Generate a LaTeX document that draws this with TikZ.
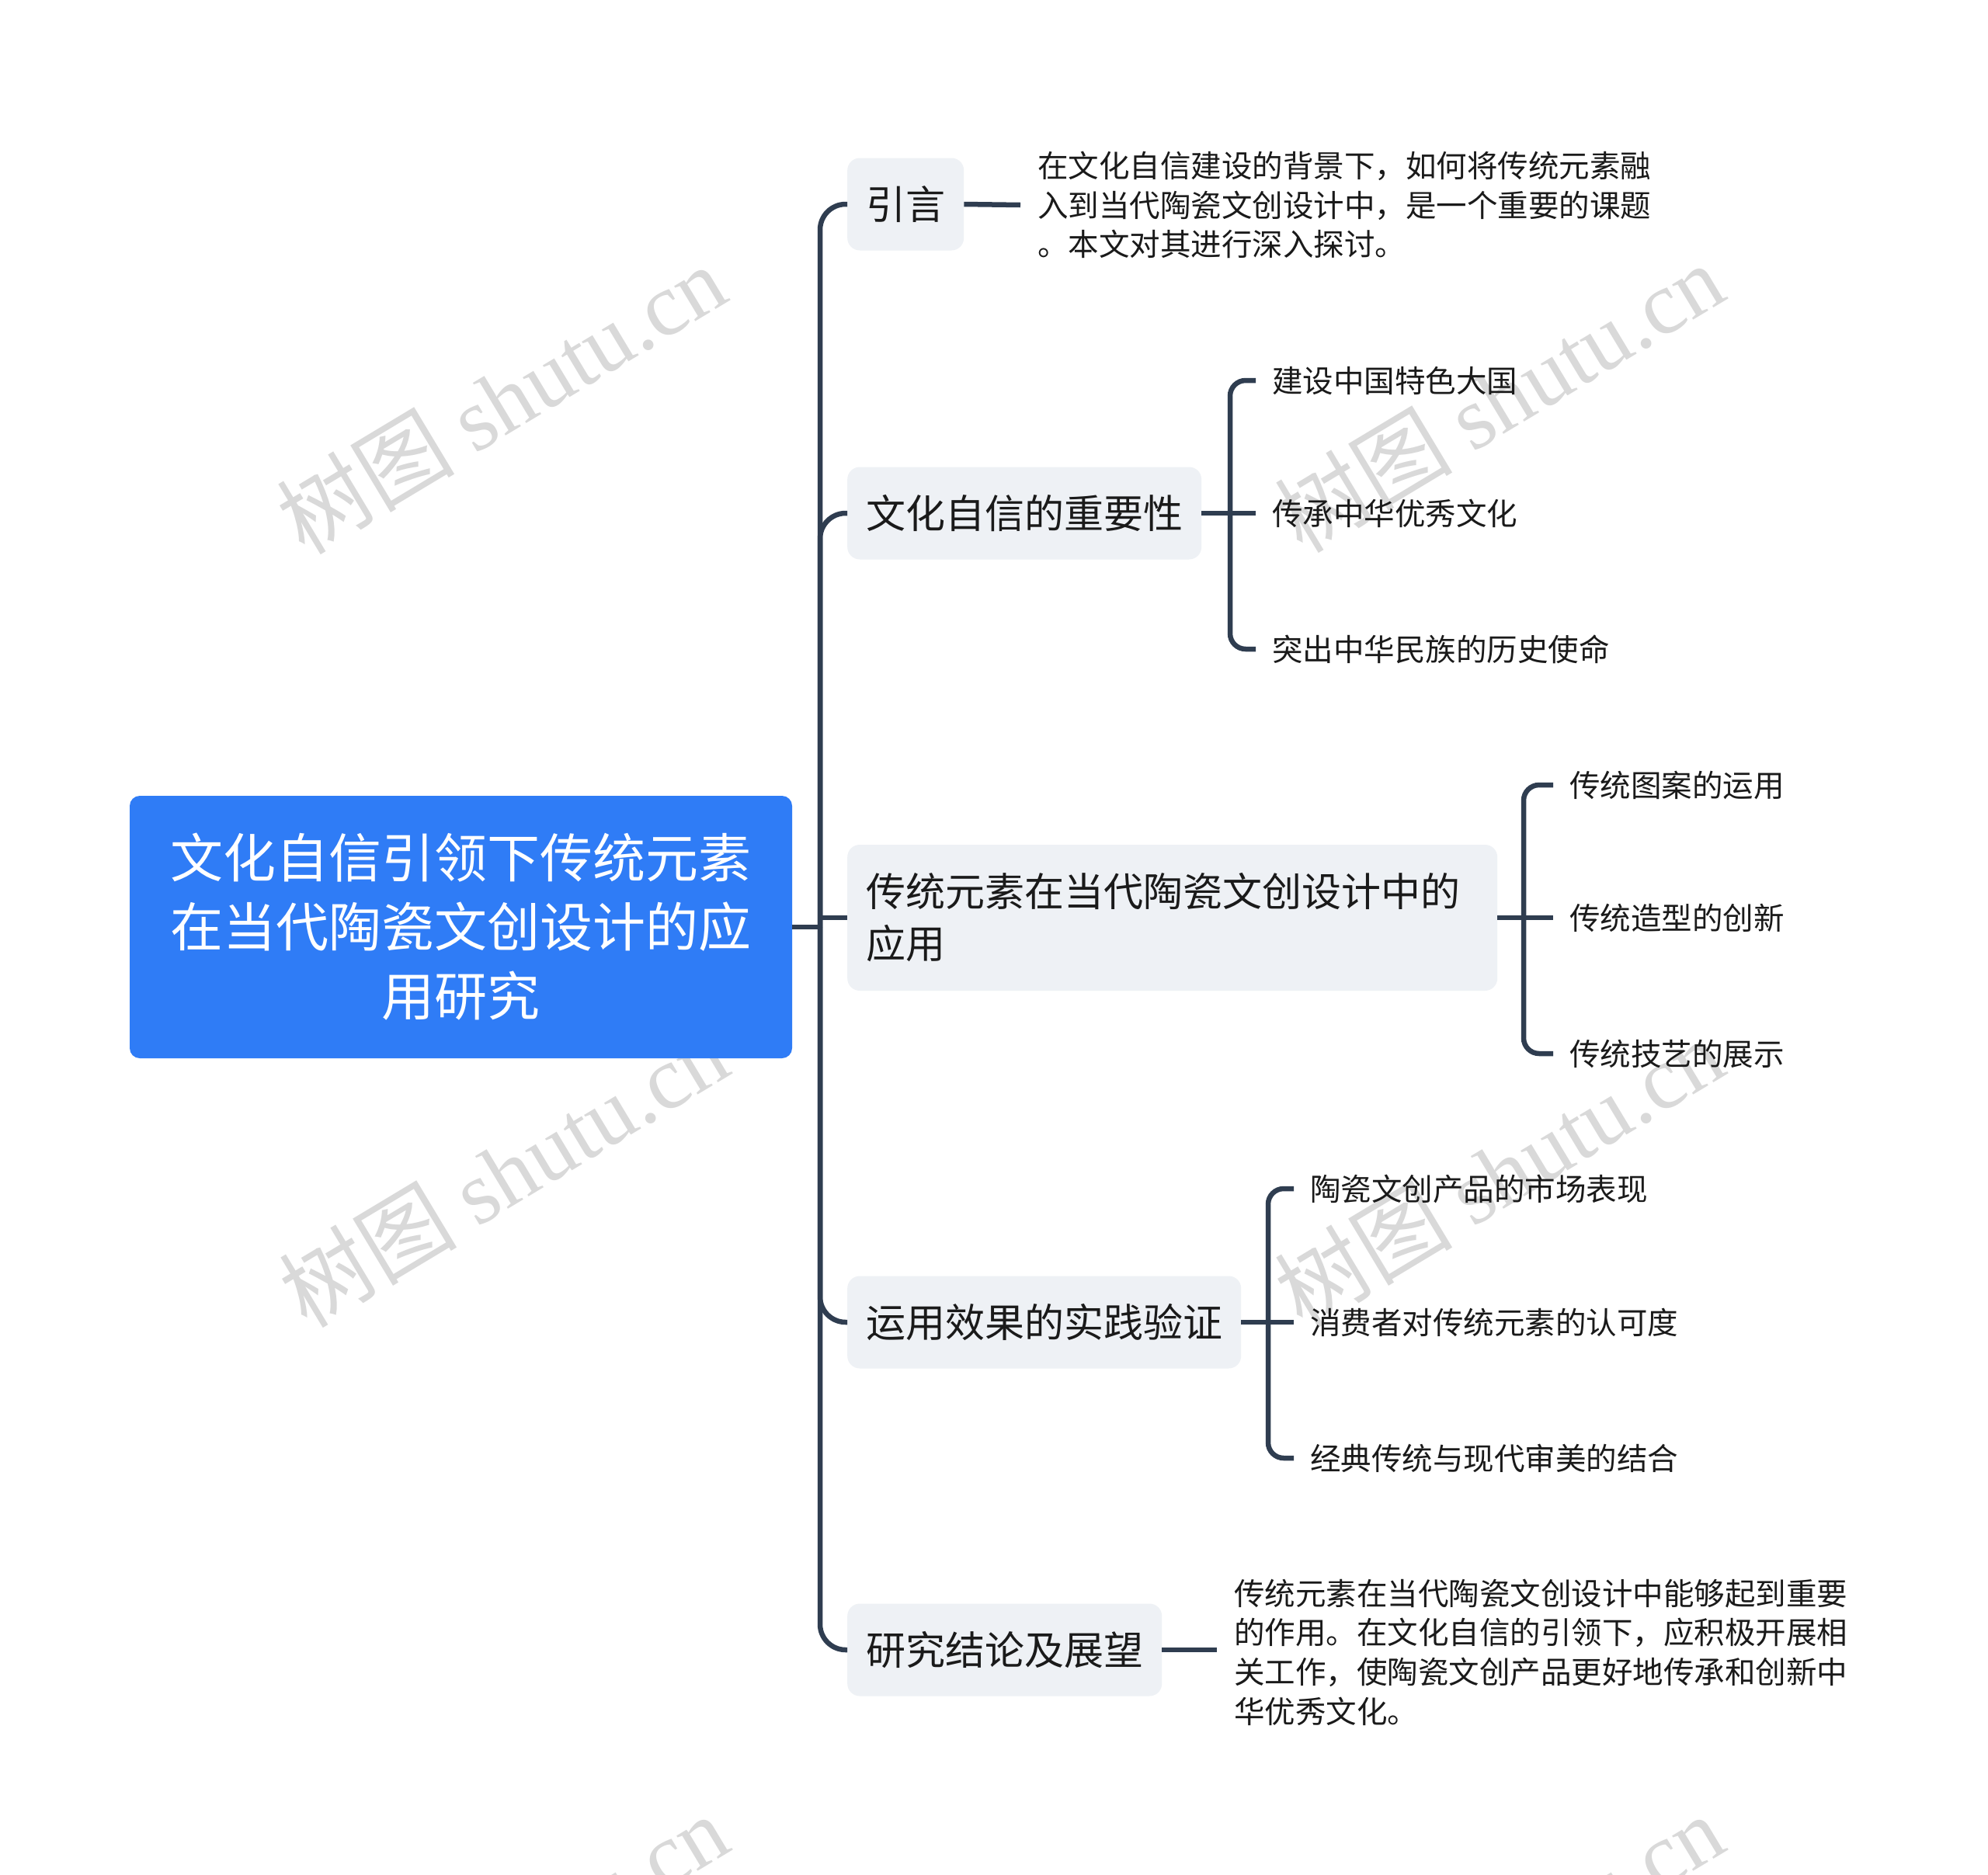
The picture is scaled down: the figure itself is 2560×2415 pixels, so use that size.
\documentclass[tikz,border=0pt]{standalone}
\usepackage{fontspec}
\setmainfont{Noto Sans CJK SC}
\newfontfamily\wmserif{Liberation Serif}
\newfontfamily\wmcjk{Noto Sans CJK SC}
\definecolor{rootblue}{HTML}{2F7CF6}
\definecolor{boxgrey}{HTML}{EEF1F5}
\definecolor{linedark}{HTML}{2F3D50}
\definecolor{txt}{HTML}{1A1A1A}
\definecolor{wmgrey}{HTML}{D9D9D9}
\begin{document}
\begin{tikzpicture}[x=1pt,y=-1pt,
  conn/.style={draw=linedark,line width=6.5pt},
  rootbox/.style={fill=rootblue,rounded corners=13pt,minimum width=853pt,minimum height=338pt,
    text width=820pt,align=center,text=white,font=\fontsize{68}{89}\selectfont,inner sep=0pt},
  lvone/.style={fill=boxgrey,rounded corners=16pt,anchor=west,minimum height=119pt,
    inner xsep=24pt,inner ysep=0pt,text=txt,font=\fontsize{51}{67}\selectfont},
  subitem/.style={anchor=west,inner xsep=21pt,inner ysep=0pt,text=txt,font=\fontsize{39.5}{39.5}\selectfont},
  leafdesc/.style={anchor=west,inner xsep=22pt,inner ysep=0pt,text=txt,align=left,
    font=\fontsize{39.5}{50.6}\selectfont},
  wm/.style={rotate=31,text=wmgrey,inner sep=0pt}
]
\useasboundingbox (0,0) rectangle (2560,2415);
\fill[white] (0,0) rectangle (2560,2415);

% watermarks
\begin{scope}
\clip (0,0) rectangle (2560,2415);
\node[wm] (wma) at (645,514) {\wmcjk\fontsize{115}{115}\selectfont 树图 \wmserif shutu.cn};
\node[wm] (wmb) at (1930,512) {\wmcjk\fontsize{115}{115}\selectfont 树图 \wmserif shutu.cn};
\node[wm] (wmc) at (648,1510) {\wmcjk\fontsize{115}{115}\selectfont 树图 \wmserif shutu.cn};
\node[wm] (wmd) at (1930,1510) {\wmcjk\fontsize{115}{115}\selectfont 树图 \wmserif shutu.cn};
\node[wm] (wme) at (648,2510) {\wmcjk\fontsize{115}{115}\selectfont 树图 \wmserif shutu.cn};
\node[wm] (wmf) at (1930,2510) {\wmcjk\fontsize{115}{115}\selectfont 树图 \wmserif shutu.cn};
\end{scope}

% root
\node[rootbox] (root) at (593.5,1194) {文化自信引领下传统元素\\在当代陶瓷文创设计的应\\用研究};

% level one
\node[lvone] (n1) at (1091,263) {引言};
\node[lvone] (n2) at (1091,661) {文化自信的重要性};
\node[lvone,minimum height=188pt,text width=789pt,align=left] (n3) at (1091,1182) {传统元素在当代陶瓷文创设计中的\\应用};
\node[lvone] (n4) at (1091,1703) {运用效果的实践验证};
\node[lvone] (n5) at (1091,2125) {研究结论及展望};

% spine
\coordinate (sp) at (1056,1194);
\draw[conn] (root.east) -- (sp);
\draw[conn,rounded corners=33pt] (sp) |- (n1.west);
\draw[conn,rounded corners=33pt] (sp) |- (n2.west);
\draw[conn] (sp) |- (n3.west);
\draw[conn,rounded corners=33pt] (sp) |- (n4.west);
\draw[conn,rounded corners=33pt] (sp) |- (n5.west);

% leaf descriptions
\node[leafdesc] (d1) at (1314,264) {在文化自信建设的背景下，如何将传统元素融\\入到当代陶瓷文创设计中，是一个重要的课题\\。本文对其进行深入探讨。};
\draw[conn] (n1.east) -- (d1.west);
\node[leafdesc] (d5) at (1567,2128) {传统元素在当代陶瓷文创设计中能够起到重要\\的作用。在文化自信的引领下，应积极开展相\\关工作，使陶瓷文创产品更好地传承和创新中\\华优秀文化。};
\draw[conn] (n5.east) -- (d5.west |- n5.east);

% branch 2
\node[subitem] (c21) at (1617,490) {建设中国特色大国};
\node[subitem] (c22) at (1617,661) {传承中华优秀文化};
\node[subitem] (c23) at (1617,836) {突出中华民族的历史使命};
\coordinate (b2) at (1584,661);
\draw[conn] (n2.east) -- (b2);
\draw[conn,rounded corners=20pt] (b2) |- (c21.west);
\draw[conn] (b2) -- (c22.west);
\draw[conn,rounded corners=20pt] (b2) |- (c23.west);

% branch 3
\node[subitem] (c31) at (2000,1011) {传统图案的运用};
\node[subitem] (c32) at (2000,1182) {传统造型的创新};
\node[subitem] (c33) at (2000,1357) {传统技艺的展示};
\coordinate (b3) at (1962,1182);
\draw[conn] (n3.east) -- (b3);
\draw[conn,rounded corners=20pt] (b3) |- (c31.west);
\draw[conn] (b3) -- (c32.west);
\draw[conn,rounded corners=20pt] (b3) |- (c33.west);

% branch 4
\node[subitem] (c41) at (1666,1531) {陶瓷文创产品的市场表现};
\node[subitem] (c42) at (1666,1703) {消费者对传统元素的认可度};
\node[subitem] (c43) at (1666,1878) {经典传统与现代审美的结合};
\coordinate (b4) at (1633,1703);
\draw[conn] (n4.east) -- (b4);
\draw[conn,rounded corners=20pt] (b4) |- (c41.west);
\draw[conn] (b4) -- (c42.west);
\draw[conn,rounded corners=20pt] (b4) |- (c43.west);
\end{tikzpicture}
\end{document}
